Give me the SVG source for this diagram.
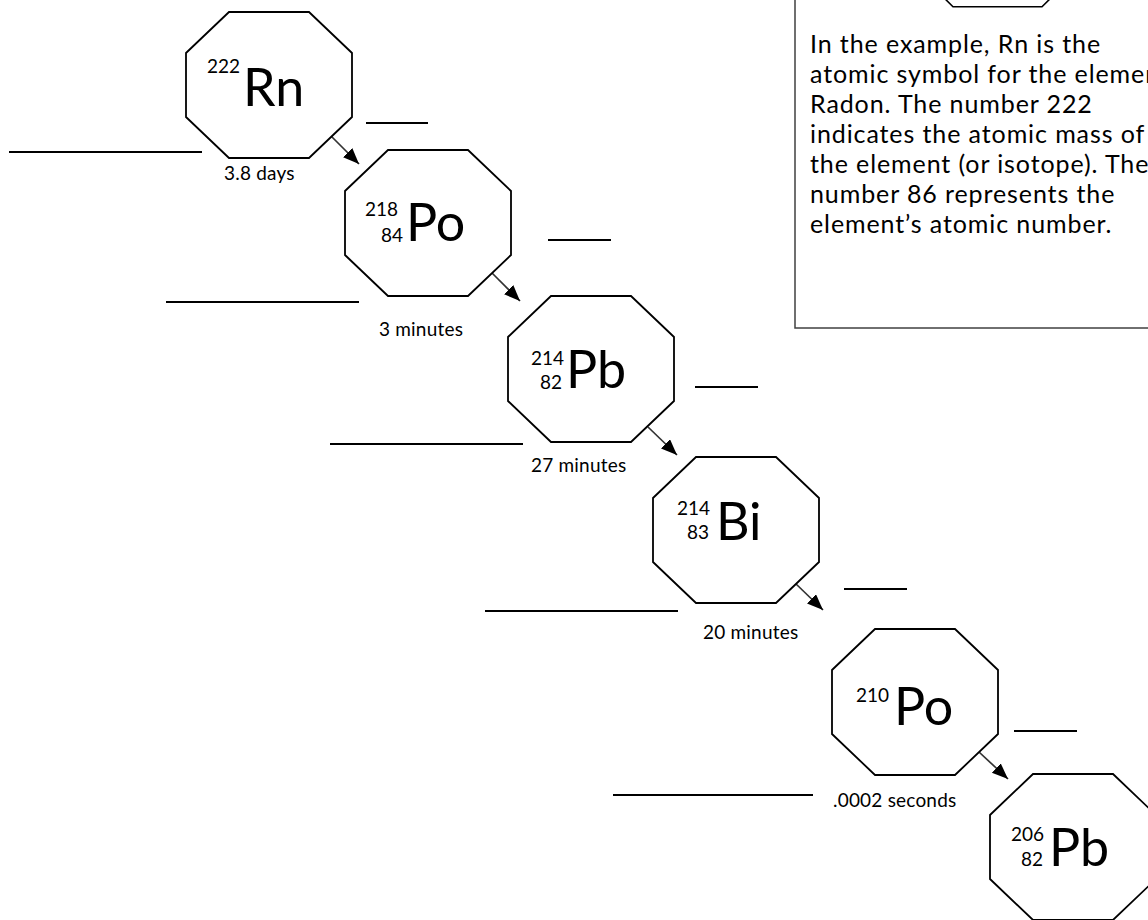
<svg xmlns="http://www.w3.org/2000/svg" xmlns:xlink="http://www.w3.org/1999/xlink" width="1148" height="920" viewBox="0 0 1148 920">
<style>
  .oct { fill: #ffffff; stroke: #000000; stroke-width: 1.8; stroke-linejoin: miter; }
  .sym { font-family: Lato, "Open Sans", "Liberation Sans", sans-serif; font-size: 52px; fill: #000000; }
  .num { font-family: Lato, "Open Sans", "Liberation Sans", sans-serif; font-size: 19px; fill: #000000; }
  .lbl { font-family: Lato, "Open Sans", "Liberation Sans", sans-serif; font-size: 19px; letter-spacing: 0.2px; fill: #000000; }
  .box { font-family: Lato, "Open Sans", "Liberation Sans", sans-serif; font-size: 25px; letter-spacing: 0.9px; fill: #000000; }
  .blank { stroke: #000000; stroke-width: 2.2; fill: none; }
  .conn { stroke: #333333; stroke-width: 1.7; fill: none; marker-end: url(#arrow); }
</style>
<defs>
  <polygon id="oct" points="43,0 123,0 166,41 166,105 123,146 43,146 0,105 0,41"/>
  <marker id="arrow" markerUnits="userSpaceOnUse" markerWidth="17" markerHeight="14" refX="16" refY="6.5" orient="auto">
    <path d="M0,0 L16,6.5 L0,13 z" fill="#000000"/>
  </marker>
</defs>
<rect x="0" y="0" width="1148" height="920" fill="#ffffff"/>

<g id="info-box">
  <rect x="795" y="-5" width="370" height="333" fill="#ffffff" stroke="#404040" stroke-width="1.5"/>
  <polyline points="936,-10 953,6.7 1042,6.7 1056,-7" fill="none" stroke="#000000" stroke-width="1.6"/>
  <text class="box" x="810" y="53">In the example, Rn is the</text>
  <text class="box" x="810" y="83">atomic symbol for the element</text>
  <text class="box" x="810" y="113">Radon. The number 222</text>
  <text class="box" x="810" y="143">indicates the atomic mass of</text>
  <text class="box" x="810" y="173">the element (or isotope). The</text>
  <text class="box" x="810" y="203">number 86 represents the</text>
  <text class="box" x="810" y="233">element’s atomic number.</text>
</g>

<g id="blanks">
  <line class="blank" x1="9" y1="152" x2="202" y2="152"/>
  <line class="blank" x1="366" y1="123" x2="428" y2="123"/>
  <line class="blank" x1="166" y1="302" x2="359" y2="302"/>
  <line class="blank" x1="548" y1="240" x2="611" y2="240"/>
  <line class="blank" x1="330" y1="444" x2="523" y2="444"/>
  <line class="blank" x1="695" y1="387" x2="758" y2="387"/>
  <line class="blank" x1="485" y1="611" x2="678" y2="611"/>
  <line class="blank" x1="844" y1="589" x2="907" y2="589"/>
  <line class="blank" x1="613" y1="795" x2="813" y2="795"/>
  <line class="blank" x1="1014" y1="731" x2="1077" y2="731"/>
</g>

<g id="connectors">
  <line class="conn" x1="330" y1="135" x2="359" y2="164"/>
  <line class="conn" x1="492" y1="273" x2="520" y2="301"/>
  <line class="conn" x1="648" y1="427" x2="677" y2="455"/>
  <line class="conn" x1="795" y1="583" x2="823" y2="610"/>
  <line class="conn" x1="979" y1="752" x2="1008" y2="779"/>
</g>

<g id="labels">
  <text class="lbl" x="224" y="180">3.8 days</text>
  <text class="lbl" x="379" y="336">3 minutes</text>
  <text class="lbl" x="531" y="472">27 minutes</text>
  <text class="lbl" x="703" y="639">20 minutes</text>
  <text class="lbl" x="833" y="807">.0002 seconds</text>
</g>

<g id="node-rn222">
  <use xlink:href="#oct" href="#oct" class="oct" x="186" y="12"/>
  <text class="num" x="207" y="73">222</text>
  <text class="sym" x="243" y="106">Rn</text>
</g>

<g id="node-po218">
  <use xlink:href="#oct" href="#oct" class="oct" x="345" y="150"/>
  <text class="num" x="365" y="216">218</text>
  <text class="num" x="403" y="242" text-anchor="end">84</text>
  <text class="sym" x="406" y="241">Po</text>
</g>

<g id="node-pb214">
  <use xlink:href="#oct" href="#oct" class="oct" x="508" y="296"/>
  <text class="num" x="531" y="365">214</text>
  <text class="num" x="562" y="389" text-anchor="end">82</text>
  <text class="sym" x="566" y="388">Pb</text>
</g>

<g id="node-bi214">
  <use xlink:href="#oct" href="#oct" class="oct" x="653" y="457"/>
  <text class="num" x="677" y="515">214</text>
  <text class="num" x="709" y="539" text-anchor="end">83</text>
  <text class="sym" x="716" y="540">Bi</text>
</g>

<g id="node-po210">
  <use xlink:href="#oct" href="#oct" class="oct" x="832" y="629"/>
  <text class="num" x="856" y="702">210</text>
  <text class="sym" x="894" y="725">Po</text>
</g>

<g id="node-pb206">
  <use xlink:href="#oct" href="#oct" class="oct" x="990" y="774"/>
  <text class="num" x="1011" y="841">206</text>
  <text class="num" x="1043" y="866" text-anchor="end">82</text>
  <text class="sym" x="1049" y="866">Pb</text>
</g>
</svg>
